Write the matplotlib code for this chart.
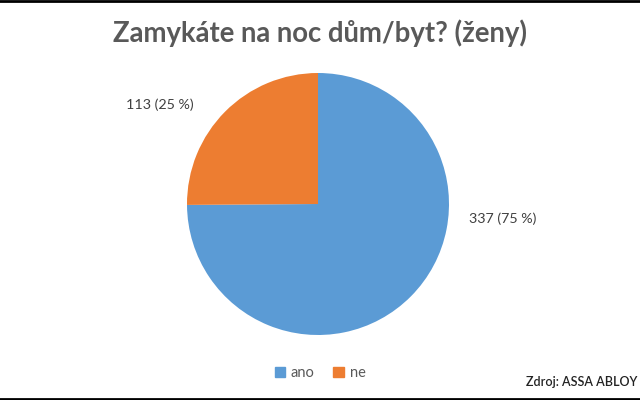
import matplotlib
matplotlib.use("Agg")
import matplotlib.pyplot as plt
from matplotlib.lines import Line2D

# data
categories = ["ano", "ne"]
counts = [337, 113]
colors = ["#5B9BD5", "#ED7D31"]
title = "Zamykáte na noc dům/byt? (ženy)"
source = "Zdroj: ASSA ABLOY"

plt.rcParams["font.family"] = ["Lato", "DejaVu Sans"]

fig = plt.figure(figsize=(6.4, 4.0), dpi=100)
fig.patch.set_facecolor("white")

ax = fig.add_axes([187 / 640, 65 / 400, 262 / 640, 262 / 400])
wedges, _ = ax.pie(counts, colors=colors, startangle=90, counterclock=False,
                   radius=1.0, wedgeprops=dict(linewidth=0))
ax.set_xlim(-1, 1)
ax.set_ylim(-1, 1)
ax.set_aspect("equal")
ax.axis("off")

total = sum(counts)
label_pos = [(1.41, -0.115), (-1.21, 0.756)]
for (x, y), v in zip(label_pos, counts):
    ax.text(x, y, "{} ({:.0f} %)".format(v, 100 * v / total), ha="center", va="center",
            fontsize=10.3, color="#404040", clip_on=False)

fig.text(0.5, 1 - 33 / 400, title, ha="center", va="center", fontsize=19.8,
         fontweight="bold", color="#595959")

handles = [plt.Rectangle((0, 0), 1, 1, color=c) for c in colors]
fig.legend(handles, categories, loc="center", bbox_to_anchor=(0.5, 1 - 373 / 400), ncol=2,
           frameon=False, fontsize=10.5, handlelength=0.7, handleheight=0.7,
           handletextpad=0.4, columnspacing=1.3, labelcolor="#595959")

# source note, kept inside the right edge
fig.text(637 / 640, 1 - 382 / 400, source, ha="right", va="center", fontsize=9,
         fontweight="semibold", color="#222222")

# black border lines top and bottom
fig.add_artist(Line2D([0, 1], [1 - 1 / 400, 1 - 1 / 400], color="black", linewidth=2,
                      transform=fig.transFigure))
fig.add_artist(Line2D([0, 1], [1 / 400, 1 / 400], color="black", linewidth=2,
                      transform=fig.transFigure))

fig.savefig("out.png", dpi=100)
